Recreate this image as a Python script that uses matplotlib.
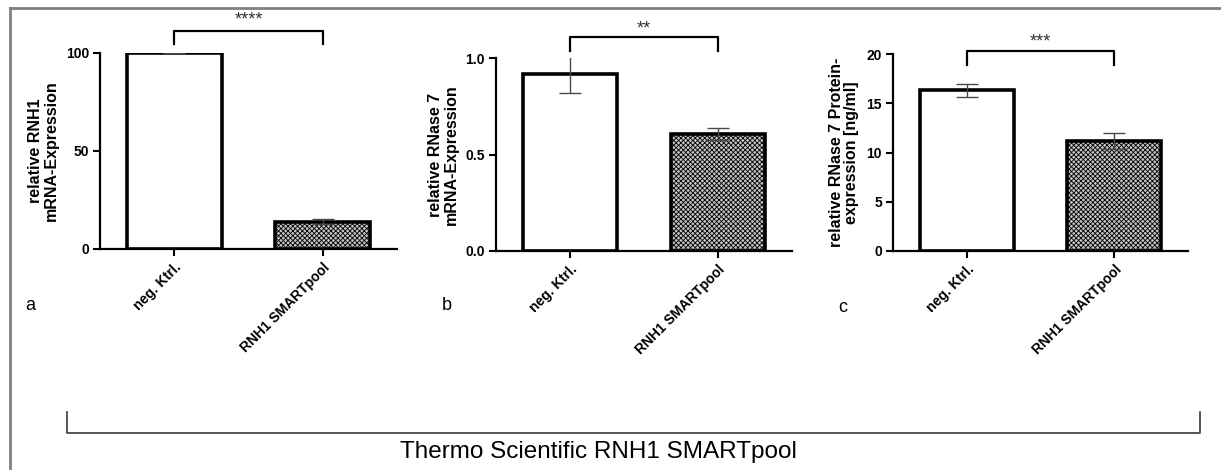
import matplotlib
matplotlib.use("Agg")
import matplotlib.pyplot as plt
from matplotlib.lines import Line2D

plt.rcParams['font.family'] = ['Liberation Sans', 'DejaVu Sans']
plt.rcParams['hatch.linewidth'] = 0.6

# data
gruppen = ["neg. Ktrl.", "RNH1 SMARTpool"]

rnh1_mittel = [100.0, 14.0]
rnh1_sem = [0.0, 1.3]

rnase7_mrna_mittel = [0.915, 0.605]
rnase7_mrna_sem = [0.095, 0.032]

rnase7_prot_mittel = [16.3, 11.2]
rnase7_prot_sem = [0.65, 0.8]

ylabels = ["relative RNH1\nmRNA-Expression",
           "relative RNase 7\nmRNA-Expression",
           "relative RNase 7 Protein-\nexpression [ng/ml]"]
sterne = ["****", "**", "***"]
buchstaben = ["a", "b", "c"]
yticks = [[0, 50, 100], [0.0, 0.5, 1.0], [0, 5, 10, 15, 20]]
ylims = [(0, 100), (0, 1.0), (0, 20)]
# bracket height and tip (data units)
klammer = [(111.2, 104.6, 117.0), (1.109, 1.036, 1.15), (20.3, 18.9, 21.2)]

W, H = 1221, 470
fig = plt.figure(figsize=(W / 100, H / 100), dpi=100)

# axes boxes in pixels: left, right, y0 (value 0), ytop (max value)
boxen = [(100, 397, 249, 53), (496, 792, 251, 58), (893, 1188, 251, 54)]
daten = [(rnh1_mittel, rnh1_sem), (rnase7_mrna_mittel, rnase7_mrna_sem),
         (rnase7_prot_mittel, rnase7_prot_sem)]
buchstaben_pos = [(30, 305), (447, 305), (843, 308)]

for i in range(3):
    l, r, y0, yt = boxen[i]
    ax = fig.add_axes([l / W, (H - y0) / H, (r - l) / W, (y0 - yt) / H])
    mittel, sem = daten[i]
    x = [0, 1]
    bars = ax.bar(x, mittel, width=0.64, color=["white", "#c4c4c4"],
                  edgecolor="black", linewidth=2.6, zorder=2)
    bars[1].set_hatch("xxxxxxx")
    ax.errorbar(x, mittel, yerr=sem, fmt="none", ecolor="#4a4a4a",
                elinewidth=1.0, capsize=8, capthick=1.0, zorder=3)
    ax.set_xlim(-0.5, 1.5)
    ax.set_ylim(*ylims[i])
    ax.set_yticks(yticks[i])
    if i == 1:
        ax.set_yticklabels(["0.0", "0.5", "1.0"])
    ax.set_xticks(x)
    ax.set_xticklabels(gruppen, rotation=45, ha="right", rotation_mode="anchor",
                       fontsize=10, fontweight="bold")
    for lab in ax.get_yticklabels():
        lab.set_fontweight("bold")
        lab.set_fontsize(10)
    ax.tick_params(direction="out", length=5, width=1.5, pad=3)
    for s in ["top", "right"]:
        ax.spines[s].set_visible(False)
    for s in ["left", "bottom"]:
        ax.spines[s].set_linewidth(1.6)
    ax.set_ylabel(ylabels[i], fontsize=11.5, fontweight="bold", labelpad=5,
                  linespacing=1.05)
    ax.patch.set_visible(False)

    h, tip, st = klammer[i]
    ax.plot([0, 0, 1, 1], [tip, h, h, tip], color="black", lw=1.6,
            clip_on=False)
    ax.text(0.5, st, sterne[i], ha="center", va="center", fontsize=13,
            color="#333333")

    bx, by = buchstaben_pos[i]
    fig.text(bx / W, 1 - by / H, buchstaben[i], fontsize=13, ha="center",
             va="center")

# frame lines of the figure
fig.add_artist(Line2D([10 / W, 1.0], [1 - 8 / H, 1 - 8 / H], color="#808080",
                      lw=2, transform=fig.transFigure))
fig.add_artist(Line2D([10 / W, 10 / W], [0, 1 - 8 / H], color="#808080",
                      lw=2, transform=fig.transFigure))

# bottom bracket
fig.add_artist(Line2D([67 / W, 67 / W, 1200 / W, 1200 / W],
                      [1 - 412 / H, 1 - 433 / H, 1 - 433 / H, 1 - 412 / H],
                      color="#3a3a3a", lw=1.2, transform=fig.transFigure))
fig.text(598 / W, 1 - 452 / H, "Thermo Scientific RNH1 SMARTpool",
         fontsize=17.5, ha="center", va="center")

fig.savefig("out.png", dpi=100)
